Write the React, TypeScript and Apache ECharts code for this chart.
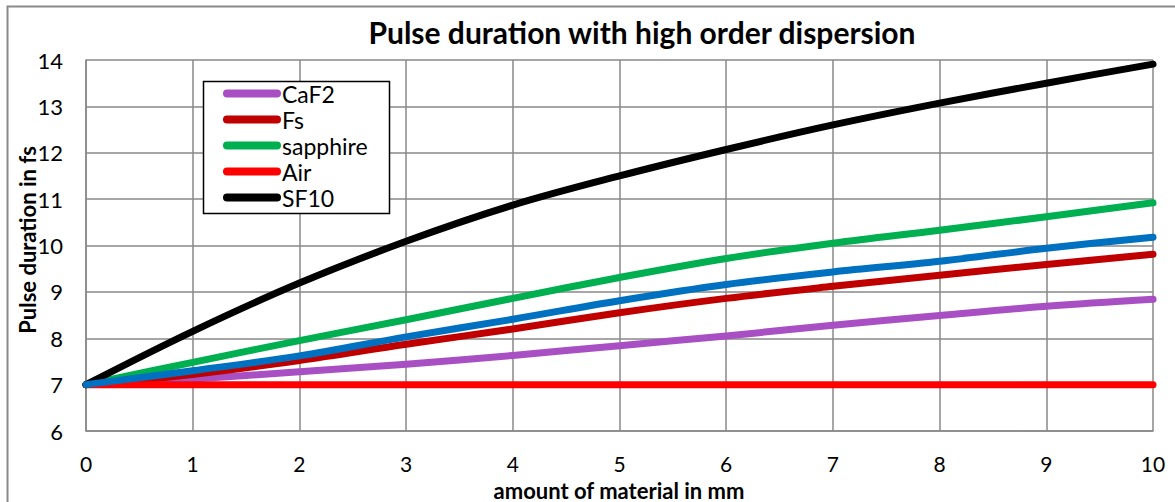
import React, { useEffect, useRef } from "react";
import * as echarts from "echarts";

const xValues = [0, 1, 2, 3, 4, 5, 6, 7, 8, 9, 10];
const caf2 = [7, 7.12, 7.28, 7.44, 7.63, 7.84, 8.05, 8.28, 8.49, 8.69, 8.84];
const fs = [7, 7.22, 7.52, 7.87, 8.2, 8.55, 8.86, 9.12, 9.36, 9.59, 9.81];
const sapphire = [7, 7.48, 7.95, 8.4, 8.86, 9.31, 9.72, 10.05, 10.33, 10.62, 10.92];
const air = [7, 7, 7, 7, 7, 7, 7, 7, 7, 7, 7];
const sf10 = [7, 8.15, 9.19, 10.09, 10.87, 11.5, 12.07, 12.6, 13.07, 13.5, 13.91];
const series6 = [7, 7.3, 7.62, 8.03, 8.41, 8.81, 9.16, 9.43, 9.66, 9.94, 10.18];

const legendNames = ["CaF2", "Fs", "sapphire", "Air", "SF10"];
const titleText = "Pulse duration with high order dispersion";
const xTitle = "amount of material in mm";
const yTitle = "Pulse duration in fs";

const FONT = "Lato";

const pair = (ys: number[]) => xValues.map((x, i) => [x, ys[i]]);

export default function App() {
  const ref = useRef<HTMLDivElement>(null);
  useEffect(() => {
    const chart = echarts.init(ref.current!, null, { renderer: "svg" });
    const mk = (name: string, data: number[], color: string) => ({
      name,
      type: "line",
      data: pair(data),
      smooth: 0.35,
      showSymbol: false,
      symbol: "none",
      lineStyle: { color, width: 7, cap: "round", join: "round" },
      itemStyle: { color },
    });
    chart.setOption({
      animation: false,
      backgroundColor: "#ffffff",
      textStyle: { fontFamily: FONT },
      grid: { left: 86, top: 60, right: 22, bottom: 71, containLabel: false },
      xAxis: {
        type: "value",
        min: 0,
        max: 10,
        interval: 1,
        axisLine: { show: true, lineStyle: { color: "#888888", width: 1.5 } },
        axisTick: { show: false },
        axisLabel: { color: "#000", fontSize: 21, lineHeight: 21, fontFamily: FONT, margin: 22 },
        splitLine: { show: true, lineStyle: { color: "#888888", width: 1.5 } },
      },
      yAxis: {
        type: "value",
        min: 6,
        max: 14,
        interval: 1,
        axisLine: { show: true, lineStyle: { color: "#888888", width: 1.5 } },
        axisTick: { show: false },
        axisLabel: { color: "#000", fontSize: 22, fontFamily: FONT, margin: 23 },
        splitLine: { show: true, lineStyle: { color: "#888888", width: 1.5 } },
      },
      legend: {
        data: legendNames,
        orient: "vertical",
        left: 223,
        top: 82,
        padding: 0,
        itemGap: 3,
        itemWidth: 58,
        itemHeight: 8,
        icon: "path://M4,0 L54,0 A4,4 0 0 1 54,8 L4,8 A4,4 0 0 1 4,0 Z",
        textStyle: { color: "#000", fontSize: 23, fontFamily: FONT, padding: [0, 0, 0, -4] },
        z: 10,
      },
      graphic: [
        {
          type: "rect",
          z: 0,
          silent: true,
          shape: { x: 7.5, y: 6.5, width: 1180, height: 520 },
          style: { fill: "none", stroke: "#8a8a8a", lineWidth: 2 },
        },
        {
          type: "rect",
          z: 5,
          silent: true,
          shape: { x: 203.5, y: 81.5, width: 186, height: 132 },
          style: { fill: "#ffffff", stroke: "#000000", lineWidth: 1.5 },
        },
        {
          type: "text",
          x: 642,
          y: 32,
          style: {
            text: titleText,
            fill: "#000",
            font: `bold 30px ${FONT}`,
            textAlign: "center",
            textVerticalAlign: "middle",
          },
        },
        {
          type: "text",
          x: 619,
          y: 490,
          style: {
            text: xTitle,
            fill: "#000",
            font: `bold 22px ${FONT}`,
            textAlign: "center",
            textVerticalAlign: "middle",
          },
        },
        {
          type: "text",
          x: 27,
          y: 240,
          rotation: Math.PI / 2,
          style: {
            text: yTitle,
            fill: "#000",
            font: `bold 22px ${FONT}`,
            textAlign: "center",
            textVerticalAlign: "middle",
          },
        },
      ],
      series: [
        mk("CaF2", caf2, "#A94FC4"),
        mk("Fs", fs, "#C00000"),
        mk("sapphire", sapphire, "#00B050"),
        mk("Air", air, "#FF0000"),
        mk("SF10", sf10, "#000000"),
        mk("Series 6", series6, "#0070C0"),
      ],
    });
    return () => chart.dispose();
  }, []);
  return (
    <div style={{ position: "fixed", left: 0, top: 0, width: 1175, height: 502, background: "#fff" }}>
      <div ref={ref} style={{ width: 1175, height: 502 }} />
    </div>
  );
}
